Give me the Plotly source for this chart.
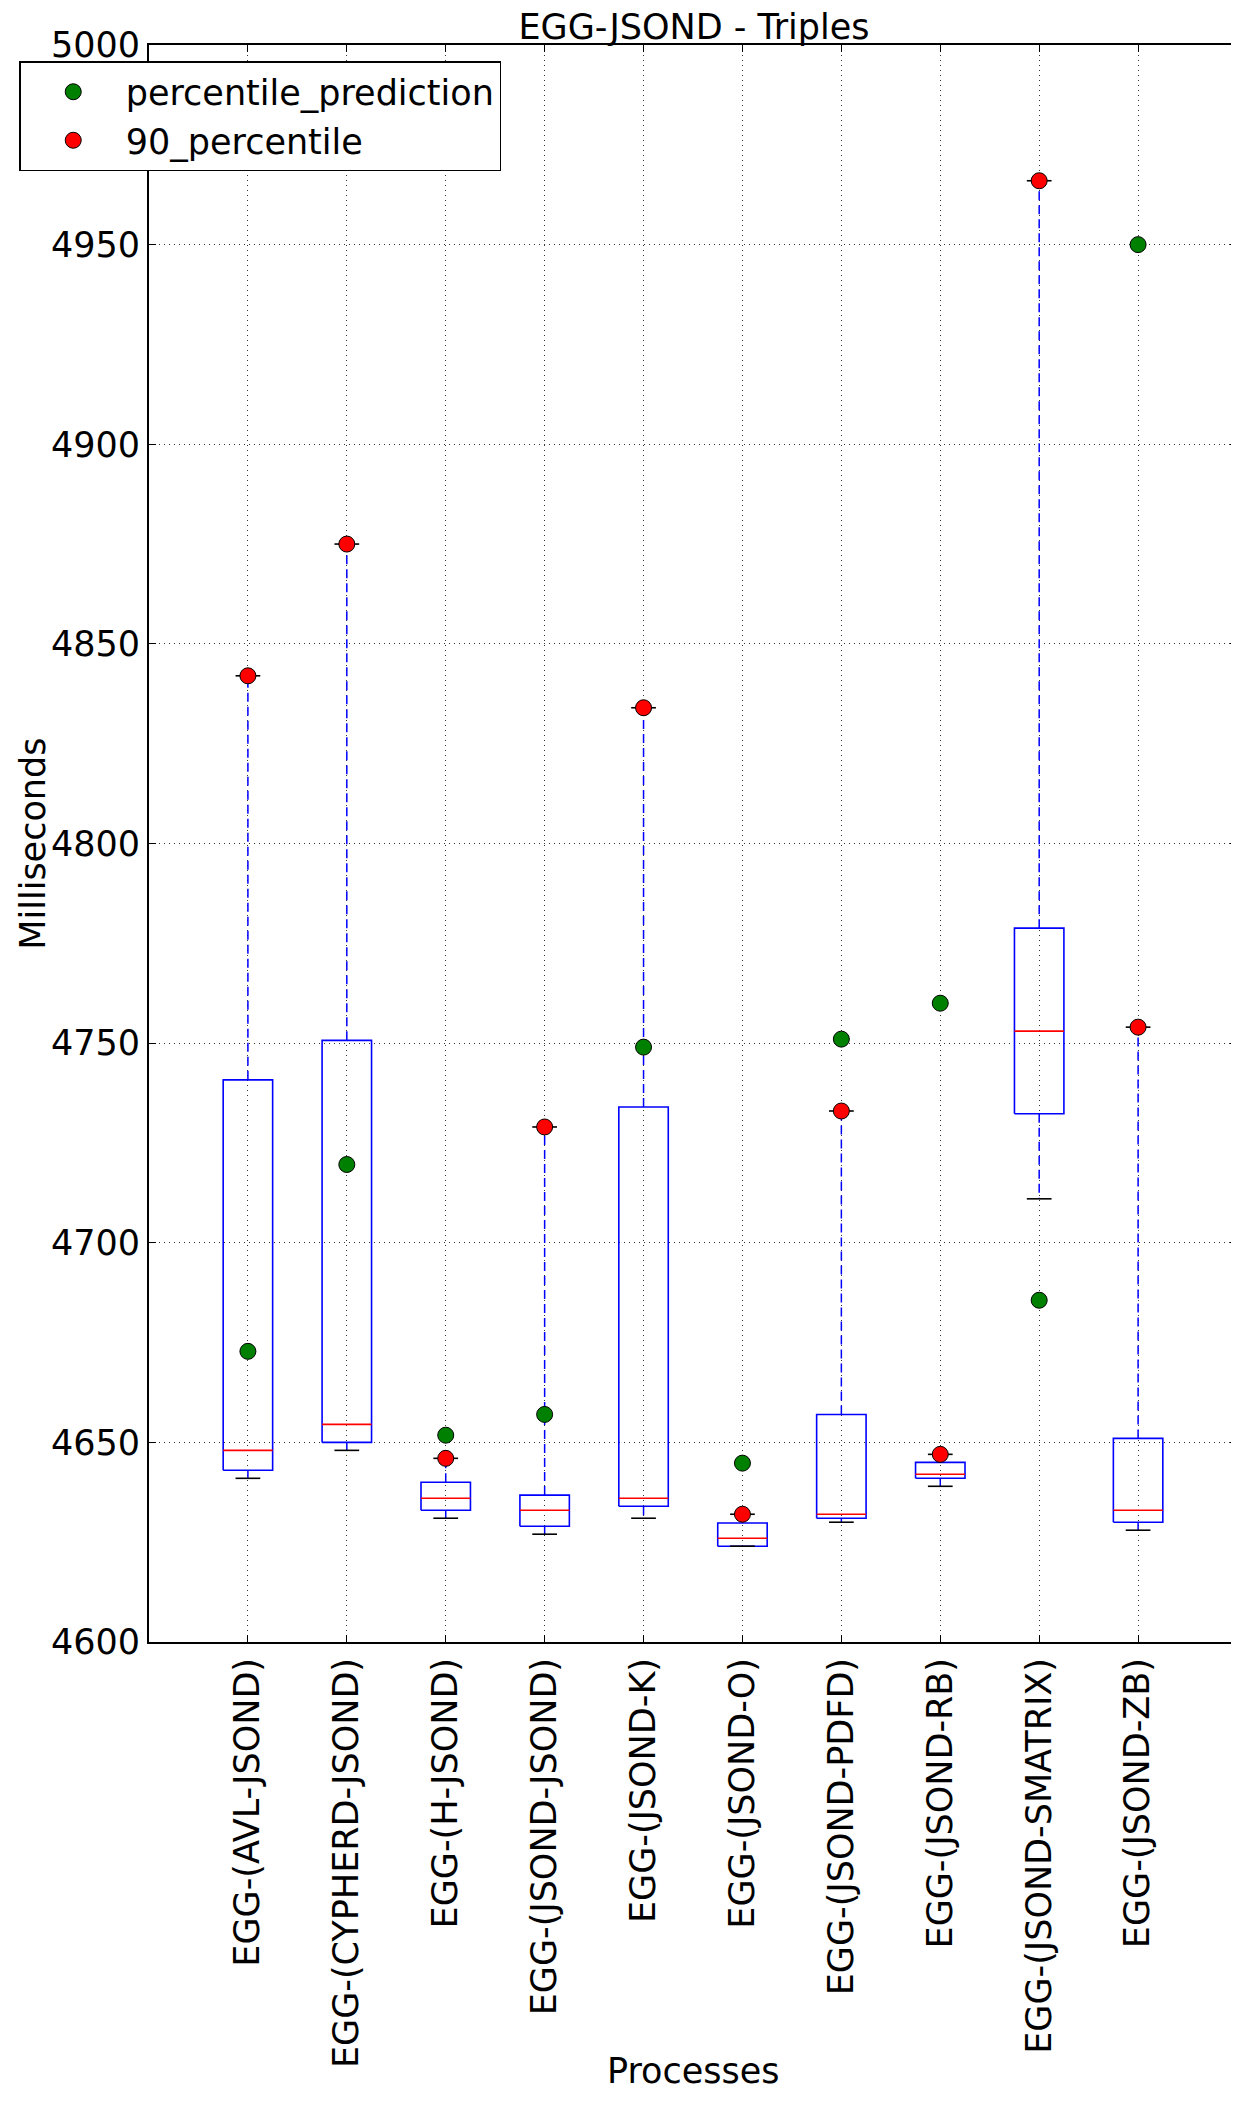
import plotly.graph_objects as go

categories = ["EGG-(AVL-JSOND)", "EGG-(CYPHERD-JSOND)", "EGG-(H-JSOND)", "EGG-(JSOND-JSOND)",
              "EGG-(JSOND-K)", "EGG-(JSOND-O)", "EGG-(JSOND-PDFD)", "EGG-(JSOND-RB)",
              "EGG-(JSOND-SMATRIX)", "EGG-(JSOND-ZB)"]
whisker_low = [4641, 4648, 4631, 4627, 4631, 4624, 4630, 4639, 4711, 4628]
q1 = [4643, 4650, 4633, 4629, 4634, 4624, 4631, 4641, 4732.3, 4630]
median = [4648, 4654.5, 4636, 4633, 4636, 4626, 4632, 4642, 4753, 4633]
q3 = [4740.8, 4750.7, 4640, 4636.8, 4734, 4629.8, 4657, 4645, 4778.8, 4651]
whisker_high = [4842, 4875, 4646, 4729, 4834, 4632, 4733, 4647, 4966, 4754]
percentile_prediction = [4672.8, 4719.6, 4651.8, 4657, 4749, 4644.8, 4751, 4760, 4685.6, 4950]
percentile_90 = [4842, 4875, 4646, 4729, 4834, 4632, 4733, 4647, 4966, 4754]
y_ticks = [4600, 4650, 4700, 4750, 4800, 4850, 4900, 4950, 5000]

pos = list(range(1, len(categories) + 1))
HW = 0.25   # half box width
CW = 0.125  # half cap width

bx, by, mx, my, wx, wy, cx, cy = [], [], [], [], [], [], [], []
for p, lo, a, m, b, hi in zip(pos, whisker_low, q1, median, q3, whisker_high):
    bx += [p - HW, p + HW, p + HW, p - HW, p - HW, None]
    by += [a, a, b, b, a, None]
    mx += [p - HW, p + HW, None]
    my += [m, m, None]
    wx += [p, p, None, p, p, None]
    wy += [b, hi, None, a, lo, None]
    cx += [p - CW, p + CW, None, p - CW, p + CW, None]
    cy += [hi, hi, None, lo, lo, None]

FONT = "DejaVu Sans"
FS = 35
fig = go.Figure()
fig.add_trace(go.Scatter(x=wx, y=wy, mode="lines", line=dict(color="blue", width=1.5, dash="9px,5px"),
                         showlegend=False, hoverinfo="skip"))
fig.add_trace(go.Scatter(x=bx, y=by, mode="lines", line=dict(color="blue", width=1.6),
                         showlegend=False, hoverinfo="skip"))
fig.add_trace(go.Scatter(x=mx, y=my, mode="lines", line=dict(color="red", width=1.6),
                         showlegend=False, hoverinfo="skip"))
fig.add_trace(go.Scatter(x=cx, y=cy, mode="lines", line=dict(color="black", width=1.6),
                         showlegend=False, hoverinfo="skip"))
fig.add_trace(go.Scatter(x=pos, y=percentile_prediction, mode="markers", name="percentile_prediction",
                         marker=dict(color="green", size=16, line=dict(color="black", width=1))))
fig.add_trace(go.Scatter(x=pos, y=percentile_90, mode="markers", name="90_percentile",
                         marker=dict(color="red", size=16, line=dict(color="black", width=1))))

W, H = 1239, 2106
L, R, T, B = 141, 8, 37, 472
pw, ph = W - L - R, H - T - B

grid = dict(showgrid=True, gridcolor="#333333", griddash="1px,4px", gridwidth=1,
            showline=True, linecolor="black", linewidth=2, mirror="ticks",
            ticks="inside", ticklen=7, tickcolor="black", zeroline=False,
            tickfont=dict(family=FONT, size=FS, color="black"))

fig.update_layout(
    width=W, height=H,
    margin=dict(l=L, r=R, t=T, b=B),
    paper_bgcolor="white", plot_bgcolor="white",
    font=dict(family=FONT, size=FS, color="black"),
    title=dict(text="EGG-JSOND - Triples", x=(L + pw / 2) / W, xanchor="center",
               y=1 - (T - 18) / H, yanchor="middle", yref="container",
               font=dict(family=FONT, size=FS, color="black")),
    showlegend=True,
    legend=dict(x=(11 - L) / pw, y=1 - (53 - T) / ph, xanchor="left", yanchor="top",
                bgcolor="white", bordercolor="black", borderwidth=1.5,
                font=dict(family=FONT, size=FS, color="black"), itemwidth=95),
    xaxis=dict(range=[0, len(categories) + 1], tickmode="array", tickvals=pos, ticktext=categories,
               tickangle=-90, **grid),
    yaxis=dict(range=[4600, 5000], tickmode="array", tickvals=y_ticks,
               ticktext=[str(v) for v in y_ticks], **grid),
    annotations=[
        dict(text="Processes", xref="paper", yref="paper", x=0.5, y=-429 / ph,
             xanchor="center", yanchor="middle", showarrow=False,
             font=dict(family=FONT, size=FS, color="black")),
        dict(text="Milliseconds", xref="paper", yref="paper", x=(24 - L) / pw, y=0.5,
             xanchor="center", yanchor="middle", textangle=-90, showarrow=False,
             font=dict(family=FONT, size=FS, color="black")),
    ],
)

fig.write_html("out.html")
